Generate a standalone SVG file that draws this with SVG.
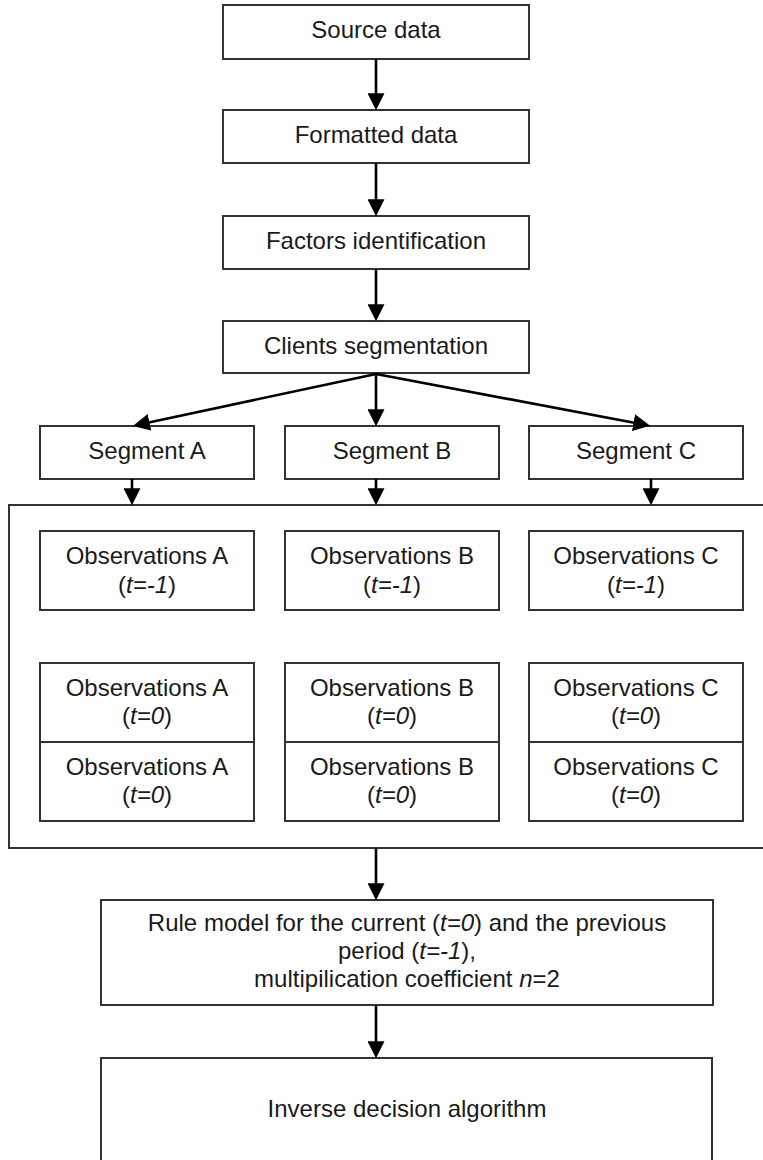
<svg xmlns="http://www.w3.org/2000/svg" width="763" height="1160" viewBox="0 0 763 1160">
  <style>
    .box { fill: #ffffff; stroke: #333333; stroke-width: 2; }
    .lbl { font-family: "Liberation Sans", Arial, sans-serif; font-size: 24px; fill: #1a1a1a; text-anchor: middle; }
    .it { font-style: italic; }
    .conn { stroke: #000000; stroke-width: 2.6; fill: none; marker-end: url(#arrow); }
  </style>
  <defs>
    <marker id="arrow" markerUnits="userSpaceOnUse" viewBox="0 0 16 16" markerWidth="17" markerHeight="17" refX="12" refY="8" orient="auto">
      <path d="M0,0 L16,8 L0,16 Z" fill="#000000"/>
    </marker>
  </defs>
  <rect width="763" height="1160" fill="#ffffff"/>

  <g id="container">
    <rect class="box" x="9" y="505" width="770" height="343"/>
  </g>

  <g id="source-data">
    <rect class="box" x="223" y="5" width="306" height="54"/>
    <text class="lbl" x="376" y="38">Source data</text>
  </g>
  <g id="formatted-data">
    <rect class="box" x="223" y="110" width="306" height="53"/>
    <text class="lbl" x="376" y="143">Formatted data</text>
  </g>
  <g id="factors-identification">
    <rect class="box" x="223" y="216" width="306" height="53"/>
    <text class="lbl" x="376" y="249">Factors identification</text>
  </g>
  <g id="clients-segmentation">
    <rect class="box" x="223" y="321" width="306" height="52"/>
    <text class="lbl" x="376" y="354">Clients segmentation</text>
  </g>

  <g id="segment-a">
    <rect class="box" x="40" y="426" width="214" height="53"/>
    <text class="lbl" x="147" y="459">Segment A</text>
  </g>
  <g id="segment-b">
    <rect class="box" x="285" y="426" width="214" height="53"/>
    <text class="lbl" x="392" y="459">Segment B</text>
  </g>
  <g id="segment-c">
    <rect class="box" x="529" y="426" width="214" height="53"/>
    <text class="lbl" x="636" y="459">Segment C</text>
  </g>

  <g id="obs-a-prev">
    <rect class="box" x="40" y="531" width="214" height="79"/>
    <text class="lbl" x="147" y="564">Observations A</text>
    <text class="lbl" x="147" y="593">(<tspan class="it">t=-1</tspan>)</text>
  </g>
  <g id="obs-b-prev">
    <rect class="box" x="285" y="531" width="214" height="79"/>
    <text class="lbl" x="392" y="564">Observations B</text>
    <text class="lbl" x="392" y="593">(<tspan class="it">t=-1</tspan>)</text>
  </g>
  <g id="obs-c-prev">
    <rect class="box" x="529" y="531" width="214" height="79"/>
    <text class="lbl" x="636" y="564">Observations C</text>
    <text class="lbl" x="636" y="593">(<tspan class="it">t=-1</tspan>)</text>
  </g>

  <g id="obs-a-cur-1">
    <rect class="box" x="40" y="663" width="214" height="79"/>
    <text class="lbl" x="147" y="696">Observations A</text>
    <text class="lbl" x="147" y="724">(<tspan class="it">t=0</tspan>)</text>
  </g>
  <g id="obs-a-cur-2">
    <rect class="box" x="40" y="742" width="214" height="79"/>
    <text class="lbl" x="147" y="775">Observations A</text>
    <text class="lbl" x="147" y="803">(<tspan class="it">t=0</tspan>)</text>
  </g>
  <g id="obs-b-cur-1">
    <rect class="box" x="285" y="663" width="214" height="79"/>
    <text class="lbl" x="392" y="696">Observations B</text>
    <text class="lbl" x="392" y="724">(<tspan class="it">t=0</tspan>)</text>
  </g>
  <g id="obs-b-cur-2">
    <rect class="box" x="285" y="742" width="214" height="79"/>
    <text class="lbl" x="392" y="775">Observations B</text>
    <text class="lbl" x="392" y="803">(<tspan class="it">t=0</tspan>)</text>
  </g>
  <g id="obs-c-cur-1">
    <rect class="box" x="529" y="663" width="214" height="79"/>
    <text class="lbl" x="636" y="696">Observations C</text>
    <text class="lbl" x="636" y="724">(<tspan class="it">t=0</tspan>)</text>
  </g>
  <g id="obs-c-cur-2">
    <rect class="box" x="529" y="742" width="214" height="79"/>
    <text class="lbl" x="636" y="775">Observations C</text>
    <text class="lbl" x="636" y="803">(<tspan class="it">t=0</tspan>)</text>
  </g>

  <g id="rule-model">
    <rect class="box" x="101" y="900" width="612" height="105"/>
    <text class="lbl" x="407" y="931">Rule model for the current (<tspan class="it">t=0</tspan>) and the previous</text>
    <text class="lbl" x="407" y="959">period (<tspan class="it">t=-1</tspan>),</text>
    <text class="lbl" x="407" y="987">multipilication coefficient <tspan class="it">n</tspan>=2</text>
  </g>

  <g id="inverse-decision">
    <rect class="box" x="101" y="1058" width="611" height="120"/>
    <text class="lbl" x="407" y="1117">Inverse decision algorithm</text>
  </g>

  <g id="connectors">
    <line class="conn" x1="376" y1="59" x2="376" y2="106"/>
    <line class="conn" x1="376" y1="163" x2="376" y2="212"/>
    <line class="conn" x1="376" y1="269" x2="376" y2="317"/>
    <line class="conn" x1="376" y1="373" x2="376" y2="422"/>
    <line class="conn" x1="376" y1="374" x2="137" y2="425"/>
    <line class="conn" x1="376" y1="374" x2="646" y2="425"/>
    <line class="conn" x1="132" y1="479" x2="132" y2="501"/>
    <line class="conn" x1="376" y1="479" x2="376" y2="501"/>
    <line class="conn" x1="651" y1="479" x2="651" y2="501"/>
    <line class="conn" x1="376" y1="848" x2="376" y2="896"/>
    <line class="conn" x1="376" y1="1005" x2="376" y2="1054"/>
  </g>
</svg>
